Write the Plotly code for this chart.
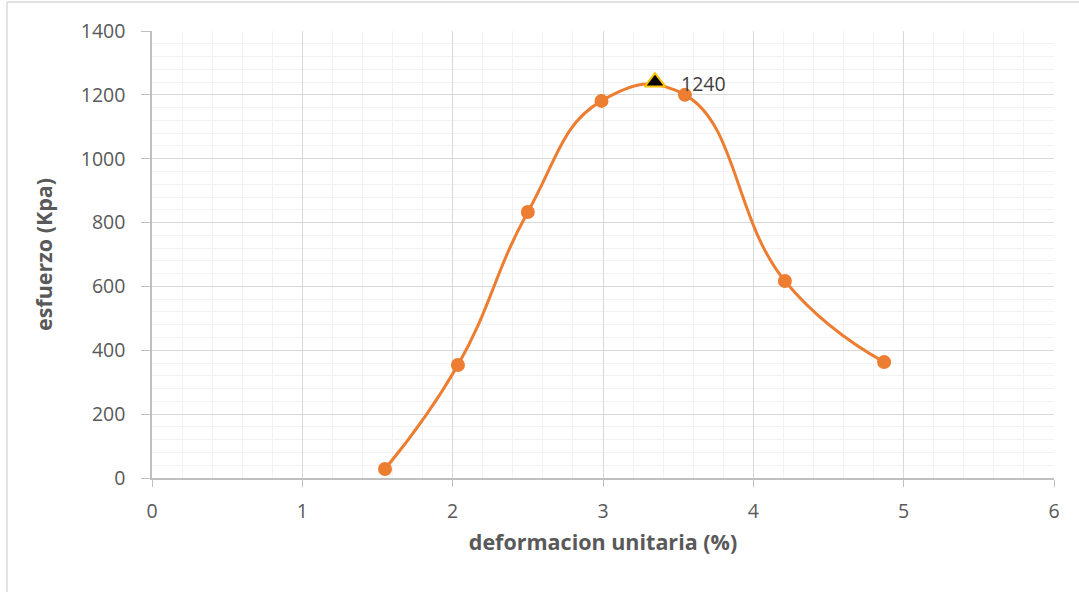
import plotly.graph_objects as go

strain = [1.55, 2.035, 2.50, 2.99, 3.545, 4.21, 4.87]
stress = [28, 354, 833, 1181, 1200, 617, 363]
peak_x = [3.346]
peak_y = [1240]
peak_label = ["1240"]

W, H = 1079, 592
L, R, T, B = 152, 25, 31, 114
pw, ph = W - L - R, H - T - B

FONT = "Open Sans, Liberation Sans, sans-serif"

fig = go.Figure()
fig.add_trace(go.Scatter(
    x=strain, y=stress, mode="lines+markers",
    line=dict(color="#ED7D31", width=3, shape="spline", smoothing=1.3),
    marker=dict(color="#ED7D31", size=14, symbol="circle"),
    showlegend=False, hoverinfo="x+y"))
fig.add_trace(go.Scatter(
    x=peak_x, y=peak_y, mode="markers",
    marker=dict(color="#000000", size=18, symbol="triangle-up",
                line=dict(color="#FFC000", width=2)),
    showlegend=False))
for px_, py_, lab in zip(peak_x, peak_y, peak_label):
    fig.add_annotation(x=px_, y=py_, text=lab, showarrow=False,
                       xanchor="left", yanchor="middle", xshift=24, yshift=-1,
                       font=dict(family=FONT, size=19.5, color="#404040"))

tickfont = dict(family=FONT, size=19.5, color="#595959")
titlefont = dict(family=FONT, size=21.5, color="#595959", weight="bold")

fig.update_xaxes(range=[0, 6], dtick=1, tick0=0,
                 showgrid=True, gridcolor="#D9D9D9", gridwidth=1,
                 minor=dict(dtick=0.2, showgrid=True, gridcolor="#F2F2F2", gridwidth=1),
                 showline=True, linecolor="#BFBFBF", linewidth=1.5,
                 ticks="outside", ticklen=7, tickcolor="#BFBFBF",
                 ticklabelstandoff=8,
                 zeroline=False, tickfont=tickfont,
                 title=dict(text="deformacion unitaria (%)", font=titlefont, standoff=12))
fig.update_yaxes(range=[0, 1400], dtick=200, tick0=0,
                 showgrid=True, gridcolor="#D9D9D9", gridwidth=1,
                 minor=dict(dtick=40, showgrid=True, gridcolor="#F2F2F2", gridwidth=1),
                 showline=True, linecolor="#BFBFBF", linewidth=1.5,
                 ticks="outside", ticklen=9, tickcolor="#BFBFBF",
                 ticklabelstandoff=12,
                 zeroline=False, tickfont=tickfont,
                 title=dict(text="esfuerzo (Kpa)", font=titlefont, standoff=22))

x_left = (7 - L) / pw
y_top = (H - B - 2) / ph
fig.add_shape(type="line", xref="paper", yref="paper", x0=x_left, x1=1.2, y0=y_top, y1=y_top,
              line=dict(color="#D9D9D9", width=1.5))
fig.add_shape(type="line", xref="paper", yref="paper", x0=x_left, x1=x_left, y0=-0.5, y1=y_top,
              line=dict(color="#D9D9D9", width=1.5))

fig.update_layout(width=W, height=H, margin=dict(l=L, r=R, t=T, b=B),
                  paper_bgcolor="white", plot_bgcolor="white")
fig.write_html("out.html")
